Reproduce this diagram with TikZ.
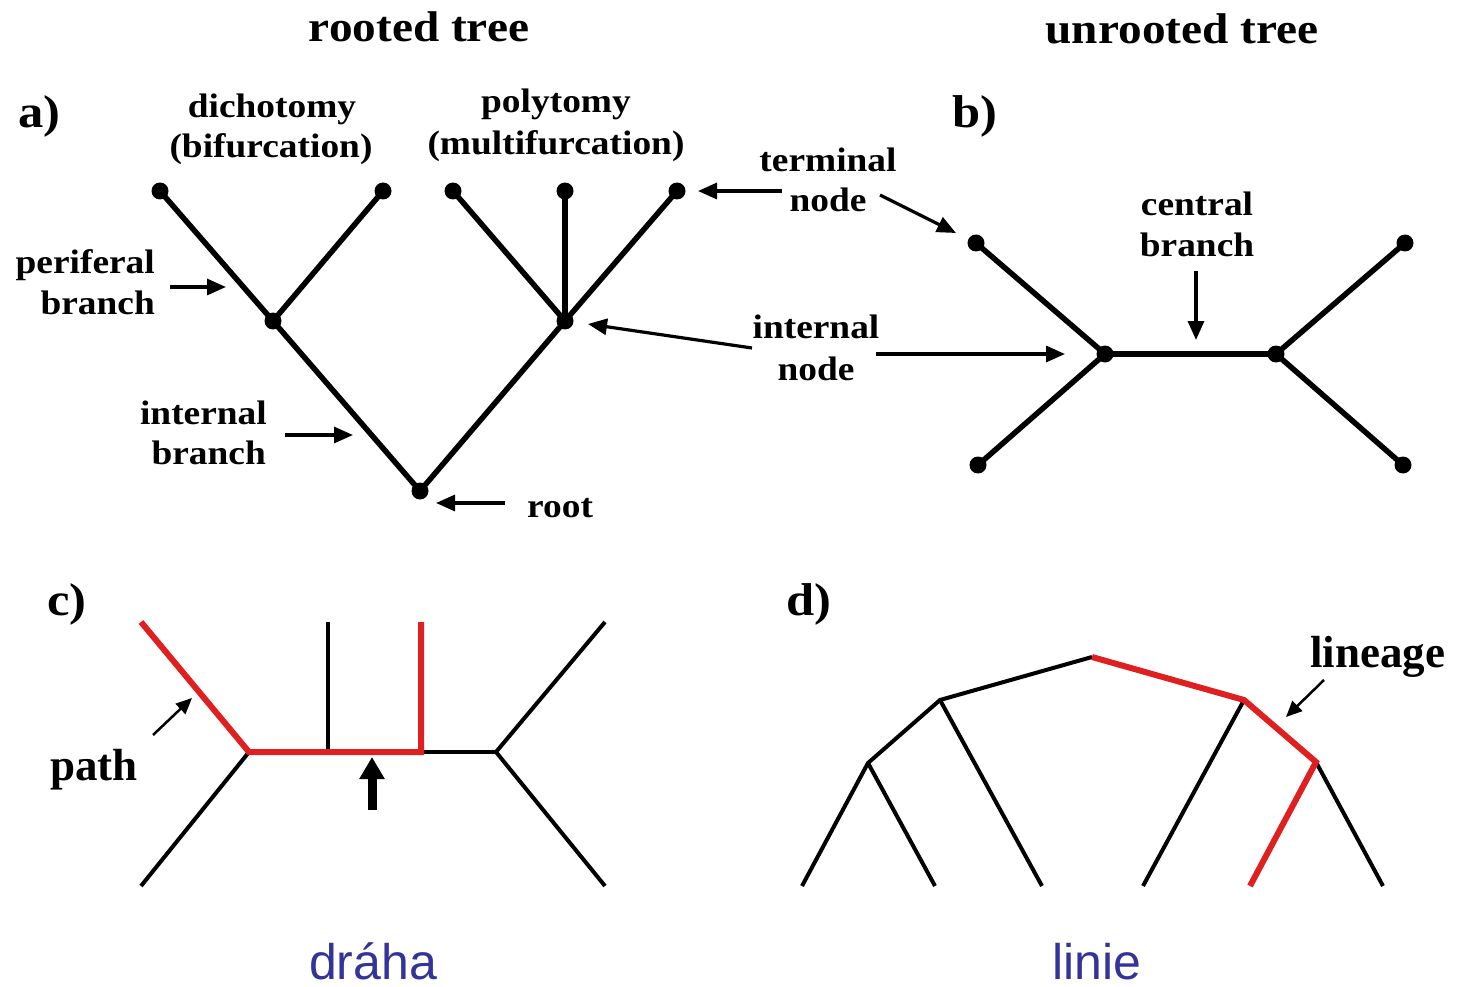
\documentclass[tikz,border=0pt]{standalone}
\usepackage{fontspec}
\setmainfont{Liberation Serif}[FakeStretch=1.1]
\newfontfamily\plainserif{Liberation Serif}
\newfontfamily\sansfam{Liberation Sans}
\usetikzlibrary{arrows.meta}
\definecolor{tred}{RGB}{222,32,32}
\definecolor{tblue}{RGB}{51,51,153}
\begin{document}
\begin{tikzpicture}[x=1pt,y=-1pt,
  dot/.style={circle,fill=black,inner sep=0pt,minimum width=16pt,minimum height=17pt},
  branch/.style={line width=5.5pt,line cap=round},
  cbranch/.style={line width=4pt},
  rbranch/.style={line width=6pt,draw=tred,line join=miter},
  ptr/.style={line width=3.2pt,-{Triangle[length=19pt,width=16pt]}},
  lbl/.style={font=\fontsize{34}{40}\selectfont\bfseries,inner sep=0pt},
  ttl/.style={font=\fontsize{43}{48}\selectfont\bfseries,inner sep=0pt,anchor=base},
  panel/.style={font=\fontsize{46}{50}\selectfont\bfseries,inner sep=0pt,anchor=base west},
  biglbl/.style={font=\plainserif\fontsize{45}{50}\selectfont\bfseries,inner sep=0pt,anchor=base west},
  czlbl/.style={font=\sansfam\fontsize{50}{54}\selectfont,text=tblue,inner sep=0pt,anchor=base}
]
\useasboundingbox (0,0) rectangle (1468,987);

% ---------- titles ----------
\node[ttl] (trooted) at (419,42) {rooted tree};
\node[ttl] (tunrooted) at (1182,44) {unrooted tree};
\node[panel] (pa) at (18,128) {a)};
\node[panel] (pb) at (952,128) {b)};
\node[panel] (pc) at (47,615) {c)};
\node[panel] (pd) at (786,615) {d)};

% ---------- a) rooted tree ----------
\node[dot] (aR) at (420,491) {};
\node[dot] (aD) at (273,321) {};
\node[dot] (aP) at (565,321) {};
\node[dot] (aL1) at (160,191) {};
\node[dot] (aL2) at (383,191) {};
\node[dot] (aL3) at (453,191) {};
\node[dot] (aL4) at (565,191) {};
\node[dot] (aL5) at (677,191) {};
\draw[branch] (aL1.center) -- (aD.center) -- (aR.center) -- (aP.center) -- (aL5.center);
\draw[branch] (aD.center) -- (aL2.center);
\draw[branch] (aP.center) -- (aL3.center);
\draw[branch] (aP.center) -- (aL4.center);

\node[lbl,anchor=base] (dich1) at (272,118) {dichotomy};
\node[lbl,anchor=base] (dich2) at (271,158) {(bifurcation)};
\node[lbl,anchor=base] (poly1) at (556,113) {polytomy};
\node[lbl,anchor=base] (poly2) at (556,155) {(multifurcation)};
\node[lbl,anchor=base east] (per1) at (155,274) {periferal};
\node[lbl,anchor=base east] (per2) at (155,315) {branch};
\node[lbl,anchor=base east] (ib1) at (267,424) {internal};
\node[lbl,anchor=base east] (ib2) at (266,464) {branch};
\node[lbl,anchor=base west] (root) at (527,517) {root};
\node[lbl,anchor=base] (tn1) at (828,172) {terminal};
\node[lbl,anchor=base] (tn2) at (828,212) {node};
\node[lbl,anchor=base] (in1) at (816,338) {internal};
\node[lbl,anchor=base] (in2) at (816,380) {node};
\node[lbl,anchor=base] (cb1) at (1197,216) {central};
\node[lbl,anchor=base] (cb2) at (1197,257) {branch};

\coordinate (perS) at (170,287);   \coordinate (perE) at (226,287);
\coordinate (ibS) at (285,435);    \coordinate (ibE) at (353,435);
\coordinate (rtS) at (505,503);    \coordinate (rtE) at (436,503);
\coordinate (tlS) at (782,191);    \coordinate (tlE) at (698,191);
\coordinate (tdS) at (880,195);    \coordinate (tdE) at (956,233);
\coordinate (ilS) at (752,348);    \coordinate (ilE) at (588,324);
\coordinate (irS) at (876,354);    \coordinate (irE) at (1065,354);
\coordinate (cbS) at (1196,271);   \coordinate (cbE) at (1196,340);
\draw[ptr] (perS) -- (perE);
\draw[ptr] (ibS) -- (ibE);
\draw[ptr] (rtS) -- (rtE);
\draw[ptr] (tlS) -- (tlE);
\draw[ptr] (tdS) -- (tdE);
\draw[ptr] (ilS) -- (ilE);
\draw[ptr] (irS) -- (irE);
\draw[ptr] (cbS) -- (cbE);

% ---------- b) unrooted tree ----------
\node[dot] (bI1) at (1105,354) {};
\node[dot] (bI2) at (1276,354) {};
\node[dot] (bL1) at (976,243) {};
\node[dot] (bL2) at (978,465) {};
\node[dot] (bL3) at (1405,243) {};
\node[dot] (bL4) at (1403,465) {};
\draw[branch] (bL1.center) -- (bI1.center) -- (bL2.center);
\draw[branch] (bI1.center) -- (bI2.center);
\draw[branch] (bL3.center) -- (bI2.center) -- (bL4.center);

% ---------- c) path ----------
\coordinate (cL) at (249,752);
\coordinate (cR) at (496,752);
\coordinate (cTL) at (141,622);
\coordinate (cBL) at (141,886);
\coordinate (cV1t) at (328,622);
\coordinate (cV1) at (328,752);
\coordinate (cV2t) at (421,622);
\coordinate (cV2) at (421,752);
\coordinate (cTR) at (605,622);
\coordinate (cBR) at (605,886);
\draw[cbranch] (cL) -- (cBL);
\draw[cbranch] (cV1t) -- (cV1);
\draw[cbranch] (cV2) -- (cR);
\draw[cbranch] (cTR) -- (cR) -- (cBR);
\draw[rbranch] (cTL) -- (cL) -- (cV2) -- (cV2t);
\coordinate (thS) at (372,810);
\coordinate (thE) at (372,757);
\draw[line width=9pt,-{Triangle[length=22pt,width=24pt]}] (thS) -- (thE);
\node[biglbl] (path) at (50,780) {path};
\coordinate (paS) at (153,735);
\coordinate (paE) at (192,698);
\draw[line width=2.5pt,-{Triangle[length=16pt,width=14pt]}] (paS) -- (paE);
\node[czlbl] (draha) at (373,979) {dráha};

% ---------- d) lineage ----------
\coordinate (dT) at (1092,657);
\coordinate (dL) at (940,700);
\coordinate (dLL) at (868,763);
\coordinate (dR) at (1244,700);
\coordinate (dRR) at (1316,762);
\coordinate (dl1) at (802,886);
\coordinate (dl2) at (935,886);
\coordinate (dl3) at (1042,886);
\coordinate (dl4) at (1143,886);
\coordinate (dl5) at (1250,886);
\coordinate (dl6) at (1383,886);
\draw[cbranch] (dT) -- (dL) -- (dLL) -- (dl1);
\draw[cbranch] (dLL) -- (dl2);
\draw[cbranch] (dL) -- (dl3);
\draw[cbranch] (dR) -- (dl4);
\draw[cbranch] (dRR) -- (dl6);
\draw[rbranch] (dT) -- (dR) -- (dRR) -- (dl5);
\node[biglbl] (lineage) at (1310,667) {lineage};
\coordinate (lnS) at (1324,680);
\coordinate (lnE) at (1286,717);
\draw[line width=2.5pt,-{Triangle[length=16pt,width=14pt]}] (lnS) -- (lnE);
\node[czlbl] (linie) at (1097,979) {linie};
\end{tikzpicture}
\end{document}
